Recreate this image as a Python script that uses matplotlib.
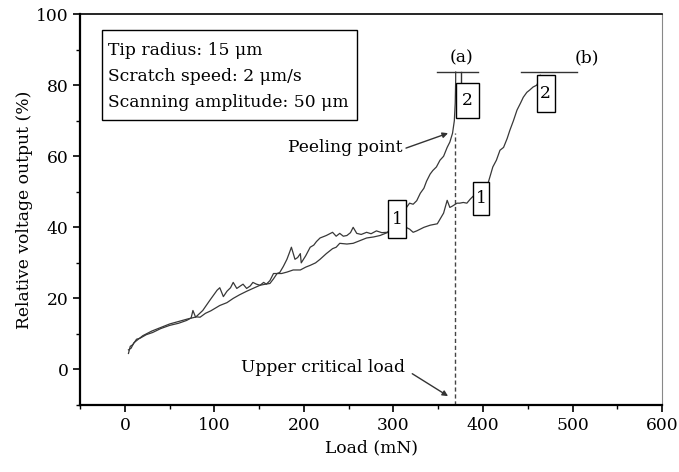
import matplotlib
matplotlib.use("Agg")
import matplotlib.pyplot as plt
from matplotlib.patches import Rectangle
from matplotlib.ticker import MultipleLocator

plt.rcParams['font.family'] = ['DejaVu Serif']
plt.rcParams['font.size'] = 12.3

# curve (a): goes up to the peeling point
load_a = [4, 6, 9, 13, 17, 24, 31, 40, 50, 60, 69, 74, 76, 79, 87, 95, 103, 106,
          110, 114, 118, 121, 125, 129, 132, 136, 140, 143, 147, 151, 155, 158,
          162, 166, 170, 173, 177, 181, 184, 186, 190, 193, 196, 197, 202, 207,
          211, 214, 218, 225, 232, 236, 240, 244, 248, 252, 255, 259, 264, 270,
          275, 281, 287, 293, 300, 308, 314, 318, 322, 326, 330, 334, 337, 341,
          344, 348, 352, 356, 360, 363, 366, 368, 369, 369.5, 369.5]
volt_a = [4.5, 6.5, 7.0, 8.5, 8.8, 9.8, 10.4, 11.5, 12.4, 13.0, 13.8, 14.5, 16.6,
          14.7, 16.6, 19.5, 22.3, 23.0, 20.5, 22.0, 23.0, 24.5, 22.8, 23.5, 24.0,
          22.8, 23.5, 24.5, 24.0, 23.7, 24.5, 24.0, 25.0, 27.0, 27.0, 27.3, 29.0,
          31.0, 33.0, 34.4, 31.0, 31.5, 32.6, 30.0, 32.0, 34.4, 35.0, 36.0, 37.0,
          37.7, 38.6, 37.5, 38.3, 37.5, 37.7, 38.5, 40.0, 38.3, 38.0, 38.6, 38.2,
          39.0, 38.5, 38.6, 40.0, 43.0, 45.4, 46.8, 46.5, 47.5, 49.6, 51.0, 53.0,
          55.0, 56.0, 57.0, 58.9, 60.0, 62.5, 64.0, 66.5, 70.0, 75.0, 81.4, 83.7]

# curve (b)
load_b = [4, 7, 10, 15, 20, 30, 40, 50, 60, 70, 80, 84, 90, 96, 106, 114, 121,
          128, 136, 143, 151, 157, 162, 166, 170, 175, 181, 188, 196, 202, 207,
          213, 218, 225, 232, 236, 240, 248, 255, 262, 270, 278, 285, 293, 300,
          308, 314, 318, 322, 326, 334, 341, 349, 356, 360, 363, 366, 371, 374,
          378, 382, 386, 388, 398, 406, 411, 415, 419, 423, 427, 430, 434, 438,
          442, 445, 449, 452, 456, 460, 462, 464]
volt_b = [5.5, 6.0, 7.5, 8.5, 9.5, 10.8, 11.8, 12.8, 13.5, 14.2, 14.8, 14.7, 15.8,
          16.5, 18.0, 18.8, 20.0, 21.0, 22.0, 22.8, 23.7, 24.0, 24.2, 25.5, 27.0,
          27.0, 27.4, 28.0, 28.0, 28.8, 29.3, 30.0, 31.0, 32.6, 34.0, 34.4, 35.5,
          35.3, 35.5, 36.2, 37.0, 37.3, 37.7, 38.5, 39.0, 40.0, 40.0, 39.5, 38.6,
          39.0, 40.0, 40.6, 41.0, 44.0, 47.6, 45.6, 46.0, 46.8, 46.8, 47.0, 46.8,
          48.0, 48.5, 51.0, 52.7, 57.0, 58.9, 61.7, 62.5, 65.0, 67.3, 70.0, 73.0,
          75.0, 76.6, 78.0, 78.6, 79.5, 80.0, 81.0, 82.8]

x_ticks = [0, 100, 200, 300, 400, 500, 600]
y_ticks = [0, 20, 40, 60, 80, 100]
info_lines = ["Tip radius: 15 μm", "Scratch speed: 2 μm/s", "Scanning amplitude: 50 μm"]

fig = plt.figure(figsize=(6.79, 4.72), dpi=100)
ax = fig.add_axes([0.118, 0.142, 0.857, 0.828])

ax.plot(load_a, volt_a, color='#383838', lw=0.9, zorder=2)
ax.plot(load_b, volt_b, color='#383838', lw=0.9, zorder=2)

# upper critical load
ax.plot([369, 369], [-10, 66.5], ls=(0, (3, 2)), color='#444444', lw=1.0, zorder=1)

# stop bars above the curves
ax.plot([349, 394], [83.8, 83.8], color='#333333', lw=1.0)
ax.plot([443, 505], [83.8, 83.8], color='#333333', lw=1.0)
ax.plot([375, 375], [80.8, 83.8], color='#333333', lw=1.0)
ax.text(376, 87.6, "(a)", ha='center', va='center')
ax.text(516, 87.6, "(b)", ha='center', va='center')

# numbered boxes
for x0, y0, w, h, lab in [(294, 37.0, 20, 10.6, "1"), (389, 43.4, 18, 9.3, "1"),
                          (370, 70.7, 26, 9.9, "2"), (460, 72.4, 20, 10.6, "2")]:
    ax.add_patch(Rectangle((x0, y0), w, h, facecolor='white', edgecolor='black',
                           lw=1.0, zorder=3))
    ax.text(x0 + w / 2, y0 + h / 2, lab, ha='center', va='center', zorder=4)

arrow = dict(arrowstyle='-|>', color='#333333', lw=1.0, mutation_scale=8,
             shrinkA=0, shrinkB=0)
ax.text(310, 62.5, "Peeling point", ha='right', va='center')
ax.annotate("", xy=(361, 66.5), xytext=(314, 62.3), arrowprops=arrow)
ax.text(313, 0.5, "Upper critical load", ha='right', va='center')
ax.annotate("", xy=(361, -7.5), xytext=(321, -1.2), arrowprops=arrow)

# parameter box
ax.add_patch(Rectangle((-26, 70.2), 285, 25.3, facecolor='white',
                       edgecolor='black', lw=1.0, zorder=3))
for i, line in enumerate(info_lines):
    ax.text(-19, 89.9 - 7.4 * i, line, ha='left', va='center', zorder=4)

ax.set_xlim(-50, 600)
ax.set_ylim(-10, 100)
ax.set_xticks(x_ticks)
ax.set_yticks(y_ticks)
ax.xaxis.set_minor_locator(MultipleLocator(50))
ax.yaxis.set_minor_locator(MultipleLocator(10))
ax.tick_params(which='major', direction='out', length=5, width=1.2)
ax.tick_params(which='minor', direction='out', length=3, width=1.0)
ax.tick_params(top=False, right=False)
for side in ['left', 'bottom']:
    ax.spines[side].set_linewidth(1.6)
ax.spines['top'].set_linewidth(1.2)
ax.spines['right'].set_color('#888888')

ax.set_xlabel("Load (mN)", labelpad=4)
ax.set_ylabel("Relative voltage output (%)", labelpad=2)

fig.savefig("out.png", dpi=100)
